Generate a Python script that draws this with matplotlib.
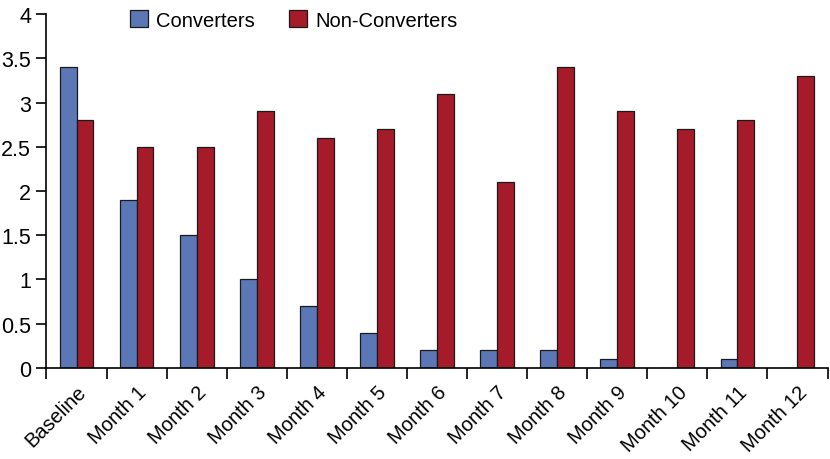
import numpy as np
import matplotlib.pyplot as plt

plt.rcParams['font.family'] = ['Liberation Sans', 'DejaVu Sans']

labels = ['Baseline', 'Month 1', 'Month 2', 'Month 3', 'Month 4', 'Month 5', 'Month 6',
          'Month 7', 'Month 8', 'Month 9', 'Month 10', 'Month 11', 'Month 12']
converters = [3.4, 1.9, 1.5, 1.0, 0.7, 0.4, 0.2, 0.2, 0.2, 0.1, 0.0, 0.1, 0.0]
non_converters = [2.8, 2.5, 2.5, 2.9, 2.6, 2.7, 3.1, 2.1, 3.4, 2.9, 2.7, 2.8, 3.3]

x = np.arange(len(labels))
w = 0.28

fig = plt.figure(figsize=(8.3, 4.6), dpi=100)
ax = fig.add_axes([0.056, 0.198, 0.941, 0.769])

ax.bar(x - w / 2, converters, w, color='#5b77b5', edgecolor='#1a1a1a', linewidth=0.9,
       label='Converters')
ax.bar(x + w / 2, non_converters, w, color='#a51b2a', edgecolor='#1a1a1a', linewidth=0.9,
       label='Non-Converters')

ax.set_xlim(-0.5, len(labels) - 0.5)
ax.set_ylim(0, 4)
ax.set_yticks(np.arange(0, 4.01, 0.5))
ax.set_yticklabels(['0', '0.5', '1', '1.5', '2', '2.5', '3', '3.5', '4'], fontsize=15.5)

# category labels at centres, tick marks at the boundaries
ax.set_xticks(x)
ax.set_xticklabels(labels, rotation=45, ha='right', va='top', rotation_mode='anchor',
                   fontsize=14.5)
ax.set_xticks(np.arange(-0.5, len(labels)), minor=True)
ax.tick_params(axis='x', which='major', length=0, pad=10)
ax.tick_params(axis='x', which='minor', length=8, width=1.2, direction='out')
ax.tick_params(axis='y', length=7, width=1.2, direction='out', pad=4)

for s in ['top', 'right']:
    ax.spines[s].set_visible(False)
for s in ['left', 'bottom']:
    ax.spines[s].set_linewidth(1.2)

fig.legend(loc='upper left', bbox_to_anchor=(0.135, 1.015), ncol=2, frameon=False,
           fontsize=14.5, handlelength=0.9, handleheight=0.9, columnspacing=1.7,
           handletextpad=0.4)

fig.savefig('out.png', dpi=100)
